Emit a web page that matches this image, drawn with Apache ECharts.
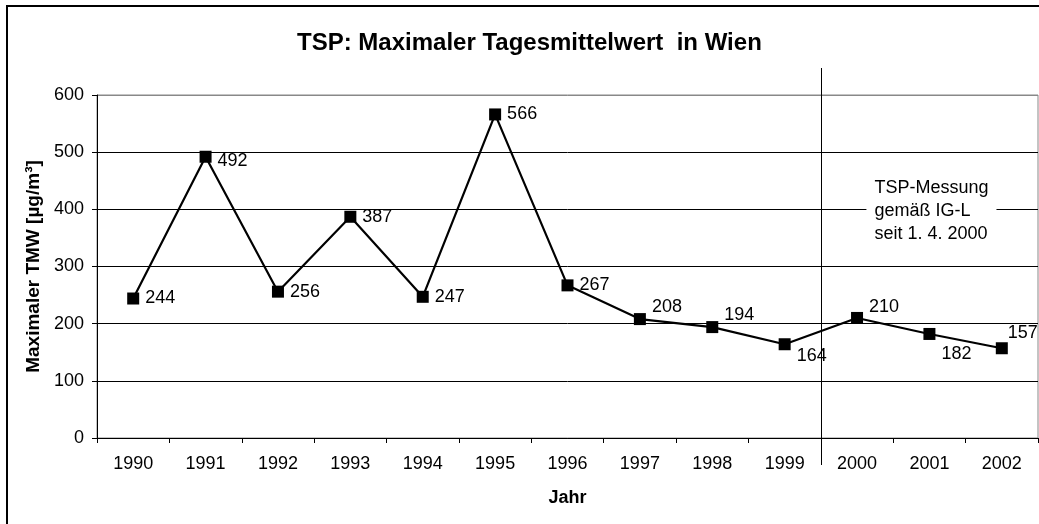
<!DOCTYPE html>
<html>
<head>
<meta charset="utf-8">
<script src="https://cdn.jsdelivr.net/npm/echarts@6/dist/echarts.min.js"></script>
<style>
  html, body { margin: 0; padding: 0; background: #fff; }
  #chart { width: 1039px; height: 524px; }
</style>
</head>
<body>
<div id="chart"></div>
<script>
// Jahre und Werte (µg/m³)
var years = ['1990', '1991', '1992', '1993', '1994', '1995', '1996', '1997', '1998', '1999', '2000', '2001', '2002'];
var tmwValues = [244, 492, 256, 387, 247, 566, 267, 208, 194, 164, 210, 182, 157];
var yTicks = [0, 100, 200, 300, 400, 500, 600];
var noteLines = ['TSP-Messung', 'gemäß IG-L', 'seit 1. 4. 2000'];

// Verschiebung der Beschriftungen (wie im Original von Hand gesetzt)
var labelShift = [
  [0, 0], [0, 4], [0, 0], [0, 0], [0, 0], [0, 0], [0, 0],
  [0, -12], [0, -12], [0, 12], [0, -11], [0, 20], [-6, -15]
];

var FONT = '"Liberation Sans", Arial, sans-serif';

var chart = echarts.init(document.getElementById('chart'));

var seriesData = tmwValues.map(function (v, i) {
  return {
    value: v,
    label: { offset: labelShift[i] }
  };
});

var options = {
  animation: false,
  backgroundColor: '#fff',
  title: {
    text: 'TSP: Maximaler Tagesmittelwert  in Wien',
    left: 292,
    top: 26,
    textStyle: {
      fontFamily: FONT,
      fontSize: 24,
      fontWeight: 'bold',
      color: '#000'
    }
  },
  grid: {
    left: 97,
    top: 95,
    right: 1,
    bottom: 86,
    show: true,
    borderColor: '#888',
    borderWidth: 1,
    backgroundColor: 'transparent'
  },
  xAxis: {
    type: 'category',
    data: years,
    boundaryGap: true,
    name: 'Jahr',
    nameLocation: 'middle',
    nameGap: 51,
    nameTextStyle: {
      fontFamily: FONT,
      fontSize: 18,
      fontWeight: 'bold',
      color: '#000'
    },
    axisLine: { lineStyle: { color: '#000', width: 1 } },
    axisTick: { show: true, length: 5, inside: false, lineStyle: { color: '#000' } },
    axisLabel: {
      margin: 17,
      fontFamily: FONT,
      fontSize: 18,
      color: '#000'
    },
    splitLine: { show: false }
  },
  yAxis: {
    type: 'value',
    min: yTicks[0],
    max: yTicks[yTicks.length - 1],
    interval: 100,
    name: 'Maximaler TMW [µg/m³]',
    nameLocation: 'middle',
    nameGap: 50,
    nameTextStyle: {
      fontFamily: FONT,
      fontSize: 19,
      fontWeight: 'bold',
      color: '#000'
    },
    axisLine: { show: true, lineStyle: { color: '#000', width: 1 } },
    axisTick: { show: true, length: 5, inside: false, lineStyle: { color: '#000' } },
    axisLabel: {
      margin: 13,
      fontFamily: FONT,
      fontSize: 18,
      color: '#000'
    },
    splitLine: {
      show: true,
      lineStyle: {
        color: ['#000', '#000', '#000', '#000', '#000', '#000', '#888'],
        width: 1
      }
    }
  },
  series: [{
    type: 'line',
    data: seriesData,
    symbol: 'rect',
    symbolSize: 12,
    itemStyle: { color: '#000' },
    lineStyle: { color: '#000', width: 2.2 },
    label: {
      show: true,
      position: 'right',
      distance: 6,
      fontFamily: FONT,
      fontSize: 18,
      color: '#000'
    },
    z: 5
  }]
};

chart.setOption(options);

// Trennlinie zwischen 1999 und 2000 und Hinweistext
function drawExtras() {
  var p1999 = chart.convertToPixel({ xAxisIndex: 0 }, '1999');
  var p2000 = chart.convertToPixel({ xAxisIndex: 0 }, '2000');
  var p2001 = chart.convertToPixel({ xAxisIndex: 0 }, '2001');
  var yTop = chart.convertToPixel({ yAxisIndex: 0 }, 600);
  var yBottom = chart.convertToPixel({ yAxisIndex: 0 }, 0);
  var yNote = chart.convertToPixel({ yAxisIndex: 0 }, 400);
  var xSep = Math.round((p1999 + p2000) / 2) + 0.5;

  chart.setOption({
    graphic: [
      {
        type: 'rect',
        silent: true,
        shape: { x: 7, y: 6, width: 1200, height: 700 },
        style: { fill: 'none', stroke: '#000', lineWidth: 2 }
      },
      {
        type: 'line',
        silent: true,
        z: 10,
        shape: { x1: xSep, y1: yTop - 27, x2: xSep, y2: yBottom + 27 },
        style: { stroke: '#000', lineWidth: 1 }
      },
      {
        type: 'text',
        silent: true,
        z: 10,
        x: p2001 - 63,
        y: yNote + 2,
        style: {
          text: noteLines.join('\n'),
          fontFamily: FONT,
          fontSize: 18,
          lineHeight: 23,
          fill: '#000',
          align: 'left',
          verticalAlign: 'middle',
          backgroundColor: '#fff',
          padding: [0, 8, 0, 8]
        }
      }
    ]
  });
}

drawExtras();
</script>
</body>
</html>
